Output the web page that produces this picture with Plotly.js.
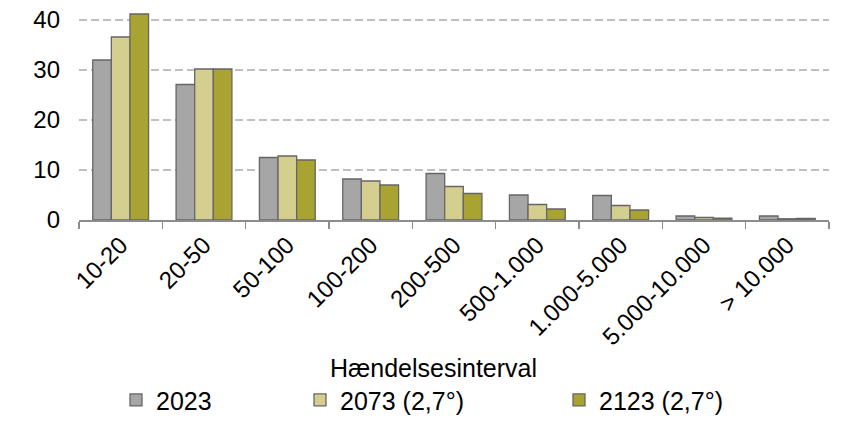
<!DOCTYPE html>
<html>
<head>
<meta charset="utf-8">
<script src="https://cdn.plot.ly/plotly-3.0.1.min.js"></script>
<style>html,body{margin:0;padding:0;background:#fff;}#chart{width:843px;height:429px;}</style>
</head>
<body>
<div id="chart"></div>
<script>
const categories = ["10-20", "20-50", "50-100", "100-200", "200-500", "500-1.000", "1.000-5.000", "5.000-10.000", "> 10.000"];
const seriesNames = ["2023", "2073 (2,7°)", "2123 (2,7°)"];
const values2023 = [32.0, 27.1, 12.5, 8.2, 9.3, 5.0, 4.9, 0.8, 0.8];
const values2073 = [36.6, 30.2, 12.8, 7.8, 6.7, 3.1, 2.9, 0.5, 0.25];
const values2123 = [41.2, 30.2, 12.0, 7.0, 5.3, 2.2, 2.0, 0.35, 0.3];
const yTicks = [0, 10, 20, 30, 40];
const axisTitle = "Hændelsesinterval";

const FONT = "Liberation Sans, Arial, sans-serif";
const colors = ["#A6A6A6", "#D4CF8E", "#A9A332"];
const allValues = [values2023, values2073, values2123];
const legendIds = ["legend", "legend2", "legend3"];

const traces = allValues.map((v, i) => ({
  type: "bar",
  x: categories,
  y: v,
  name: seriesNames[i],
  legend: legendIds[i],
  marker: {color: colors[i], line: {color: "#666666", width: 1.3}},
  hoverinfo: "skip"
}));

// plot area: x 79..829, y 5..227 (px)
const L = 79, R = 14, T = 5, B = 202, W = 843, H = 429;
const pw = W - L - R, ph = H - T - B;
const px2x = p => (p - L) / pw;
const py2y = p => (H - B - p) / ph;

const legendFont = {family: FONT, size: 25, color: "#000"};
const mkLegend = (xp) => ({
  x: px2x(xp), xanchor: "left", y: py2y(413), yanchor: "middle",
  orientation: "h", font: legendFont, bgcolor: "rgba(0,0,0,0)",
  borderwidth: 0, itemclick: false, itemdoubleclick: false
});

const layout = {
  width: W, height: H,
  margin: {l: L, r: R, t: T, b: B, pad: 0},
  paper_bgcolor: "#fff", plot_bgcolor: "#fff",
  font: {family: FONT, size: 24, color: "#000"},
  barmode: "group",
  bargap: 0.33,
  bargroupgap: 0,
  showlegend: true,
  legend: mkLegend(116),
  legend2: mkLegend(300),
  legend3: mkLegend(559),
  xaxis: {
    type: "category",
    showline: true, linecolor: "#8C8C8C", linewidth: 1.5,
    ticks: "outside", tickson: "boundaries", ticklen: 7, tickcolor: "#8C8C8C", tickwidth: 1.2,
    tickangle: -45,
    tickfont: {family: FONT, size: 24, color: "#000"},
    showgrid: false, zeroline: false,
    fixedrange: true
  },
  yaxis: {
    range: [0, 43],
    tickvals: yTicks,
    ticktext: yTicks.map(String),
    showgrid: true, gridcolor: "#BFBFBF", gridwidth: 1.2, griddash: "8px,4px",
    zeroline: false, showline: false,
    ticks: "", ticklabelstandoff: 18,
    tickfont: {family: FONT, size: 24, color: "#000"},
    fixedrange: true
  },
  annotations: [{
    text: axisTitle, xref: "paper", yref: "paper",
    x: px2x(433), y: py2y(380), xanchor: "center", yanchor: "middle",
    showarrow: false, font: {family: FONT, size: 25, color: "#000"}
  }]
};

Plotly.newPlot("chart", traces, layout, {displayModeBar: false, staticPlot: true});
</script>
</body>
</html>
